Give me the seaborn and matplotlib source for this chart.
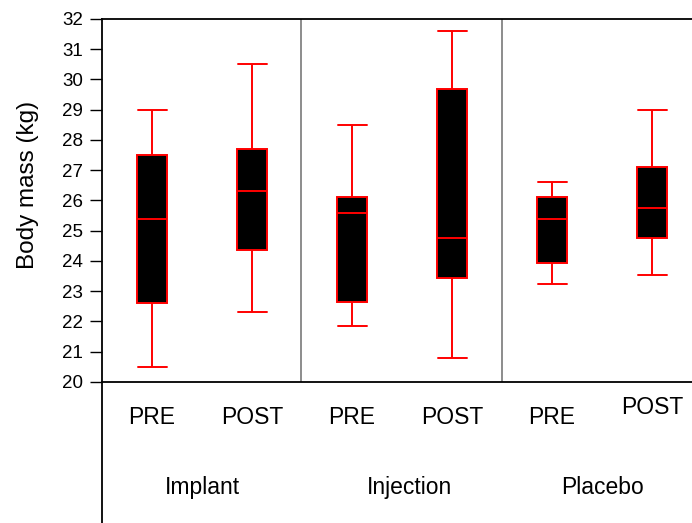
import numpy as np
import pandas as pd
import seaborn as sns
import matplotlib.pyplot as plt
from matplotlib.lines import Line2D
from matplotlib.transforms import ScaledTranslation

groups = ["Implant", "Injection", "Placebo"]
phases = ["PRE", "POST"]

# box stats per box, order: Implant PRE, Implant POST, Injection PRE, ...
lows    = [20.5, 22.3, 21.85, 20.8, 23.25, 23.55]
q1s     = [22.6, 24.35, 22.65, 23.45, 23.95, 24.75]
medians = [25.4, 26.3, 25.6, 24.75, 25.4, 25.75]
q3s     = [27.5, 27.7, 26.1, 29.7, 26.1, 27.1]
highs   = [29.0, 30.5, 28.5, 31.6, 26.6, 29.0]

slots = [f"{g} {p}" for g in groups for p in phases]
rows = []
for i, s in enumerate(slots):
    # 5 points -> linear percentiles land exactly on these values
    for v in [lows[i], q1s[i], medians[i], q3s[i], highs[i]]:
        rows.append({"slot": s, "mass": v})
df = pd.DataFrame(rows)

sns.set_style("white")
plt.rcParams["font.family"] = ["Liberation Sans", "DejaVu Sans"]
plt.rcParams["text.color"] = "black"
plt.rcParams["xtick.color"] = "black"
plt.rcParams["ytick.color"] = "black"
plt.rcParams["axes.labelcolor"] = "black"

fig = plt.figure(figsize=(6.92, 5.23), dpi=100)
ax = fig.add_axes([0.1474, 0.2696, 0.8526, 0.6941])

sns.boxplot(data=df, x="slot", y="mass", order=slots, whis=(0, 100),
            color="black", linecolor="#ff0000", width=0.3, linewidth=1.4,
            saturation=1, ax=ax)

for c in ax.containers:
    for cap in getattr(c, "caps", []):
        x0, x1 = cap.get_xdata()
        m = (x0 + x1) / 2
        cap.set_xdata([m - 0.145, m + 0.145])

ax.set_xlim(-0.5, 5.4)
ax.set_ylim(20, 32)
ax.set_yticks(range(20, 33))
ax.tick_params(axis="y", direction="out", length=8.5, width=1, color="black",
               labelsize=13.5, left=True, pad=5)
ax.set_xticks(range(6))
ax.set_xticklabels(phases * 3, fontsize=16.5)
ax.tick_params(axis="x", length=0, pad=17)
# the last POST label sits a bit higher in the original
lab = ax.get_xticklabels()[5]
lab.set_transform(lab.get_transform() + ScaledTranslation(0, 7 / 72, fig.dpi_scale_trans))
ax.set_xlabel("")
ax.set_ylabel("Body mass (kg)", fontsize=17.5)
ax.yaxis.set_label_coords(-0.107, 0.544)

for x in [1.49, 3.5]:
    ax.axvline(x, color="#8c8c8c", linewidth=1.4)

group_x = [0.5, 2.57, 4.5]
for gx, g in zip(group_x, groups):
    ax.text(gx, -0.29, g, transform=ax.get_xaxis_transform(),
            ha="center", va="center", fontsize=16.5)

for side in ["left", "bottom", "top"]:
    ax.spines[side].set_color("black")
    ax.spines[side].set_linewidth(1.3)
ax.spines["right"].set_visible(False)

# y axis line continues down through the label area
fig.add_artist(Line2D([0.1474, 0.1474], [0, 0.2696], color="black", linewidth=1.3))

fig.savefig("out.png", dpi=100)
